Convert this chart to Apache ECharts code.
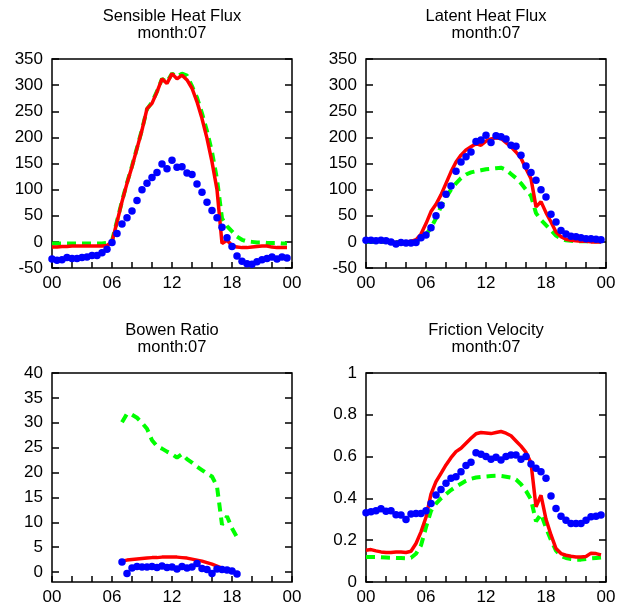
<!DOCTYPE html>
<html>
<head>
<meta charset="utf-8">
<script src="https://cdn.jsdelivr.net/npm/echarts@6/dist/echarts.min.js"></script>
<style>html,body{margin:0;padding:0;background:#fff}#c{width:626px;height:610px}</style>
</head>
<body>
<div id="c"></div>
<script>
const hours = [0,0.5,1,1.5,2,2.5,3,3.5,4,4.5,5,5.5,6,6.5,7,7.5,8,8.5,9,9.5,10,10.5,11,11.5,
  12,12.5,13,13.5,14,14.5,15,15.5,16,16.5,17,17.5,18,18.5,19,19.5,20,20.5,21,21.5,22,22.5,23,23.5];
const xTickLabels = ['00','06','12','18','00'];

const titles = ['Sensible Heat Flux\nmonth:07','Latent Heat Flux\nmonth:07','Bowen Ratio\nmonth:07','Friction Velocity\nmonth:07'];

// Sensible heat flux
const shRed = [-10,-10,-9,-9,-8,-8,-8,-8,-8,-8,-8,-7, 0,38,77,112,144,179,214,255,265,287,312,303,
  322,312,319,310,294,268,236,198,153,100,-3,3, -7,-10,-11,-11,-10,-9,-8,-8,-10,-11,-11,-11];
const shGreen = [-3,-3,-3,-3,-3,-3,-3,-3,-3,-3,-3,-2, 2,40,78,113,145,180,215,254,267,288,312,306,
  322,316,322,318,298,276,246,212,172,120,45,30, 20,10,4,1,0,-1,-1,-2,-2,-2,-3,-3];
const shBlue = [-33,-35,-34,-30,-32,-32,-30,-29,-26,-26,-21,-14, -1,16,34,46,59,79,100,112,123,133,149,140,
  156,143,144,132,129,111,95,76,60,46,28,8, -9,-27,-37,-42,-43,-38,-34,-32,-29,-33,-29,-31];

// Latent heat flux
const lhRed = [1,1,1,1,0,0,-1,0,0,1,4,15, 35,58,72,90,112,134,153,166,176,182,188,185,
  193,197,199,198,190,182,172,160,140,121,67,77, 56,38,19,10,5,3,2,1,1,0,0,0];
const lhGreen = [0,0,0,0,0,0,0,0,0,0,2,6, 14,27,45,68,85,100,112,122,129,133,135,137,
  139,140,141,142,138,130,122,112,100,88,55,42, 32,22,12,6,3,2,1,1,1,1,1,1];
const lhBlue = [3,3,2,3,2,0,-4,-1,-2,-2,-1,8, 13,27,50,70,91,107,135,153,163,172,192,195,
  204,190,203,201,197,185,183,166,145,133,118,100, 86,53,38,22,15,11,10,8,6,6,5,4];

// Bowen ratio (07:00 - 18:30)
const brHours = hours.slice(14, 38);
const brRed = [2.2,2.4,2.5,2.6,2.7,2.8,2.9,2.9,3.0,3.0,3.0,3.0,2.9,2.8,2.6,2.4,2.2,1.9,1.6,1.2,0.8,0.5,0.2,-0.2];
const brGreen = [30.1,31.8,31.6,31.0,30.0,28.8,26.5,25.3,24.8,24.2,23.7,23.0,23.7,22.7,22.0,21.2,20.5,19.8,19.2,17.2,9.5,11.2,8.8,7.0];
const brBlue = [2.0,-0.3,0.8,1.1,1.0,1.0,1.1,0.9,1.2,0.9,1.0,0.6,1.1,0.8,1.0,1.7,0.7,0.5,-0.3,0.6,0.5,0.4,0.2,-0.4];
const brTicks = [0,5,10,15,20,25,30,35,40];

// Friction velocity
const fvRed = [0.152,0.155,0.149,0.144,0.141,0.141,0.144,0.143,0.141,0.147,0.184,0.24,
  0.31,0.42,0.48,0.52,0.56,0.595,0.624,0.64,0.664,0.688,0.709,0.715,
  0.713,0.71,0.715,0.72,0.712,0.70,0.675,0.65,0.62,0.57,0.36,0.415,
  0.30,0.225,0.16,0.136,0.128,0.123,0.12,0.12,0.122,0.138,0.136,0.13];
const fvGreen = [0.12,0.12,0.12,0.118,0.117,0.116,0.115,0.115,0.114,0.116,0.135,0.175,
  0.262,0.34,0.375,0.40,0.42,0.44,0.456,0.47,0.484,0.494,0.50,0.503,
  0.505,0.507,0.508,0.507,0.504,0.50,0.49,0.468,0.436,0.395,0.29,0.325,
  0.26,0.20,0.15,0.125,0.115,0.11,0.107,0.107,0.11,0.113,0.115,0.117];
const fvBlue = [0.331,0.336,0.341,0.350,0.338,0.341,0.322,0.320,0.299,0.325,0.328,0.328,
  0.341,0.376,0.416,0.443,0.472,0.496,0.504,0.528,0.557,0.573,0.619,0.611,
  0.600,0.587,0.597,0.584,0.600,0.608,0.608,0.587,0.600,0.565,0.544,0.528,
  0.496,0.411,0.352,0.315,0.296,0.28,0.28,0.28,0.296,0.312,0.315,0.32];

const FONT = '"Liberation Sans", Arial, sans-serif';
const pair = (xs, ys) => ys.map((v, i) => [xs[i], v]);

const grids = [
  {left: 52, top: 59, width: 240, height: 209},
  {left: 366, top: 59, width: 240, height: 209},
  {left: 52, top: 373, width: 240, height: 209},
  {left: 366, top: 373, width: 240, height: 209}
];
const yRanges = [
  {min: -50, max: 350, interval: 50},
  {min: -50, max: 350, interval: 50},
  {min: -2, max: 40, custom: brTicks},
  {min: 0, max: 1, interval: 0.2}
];
const panels = [
  [shRed, shGreen, shBlue, hours],
  [lhRed, lhGreen, lhBlue, hours],
  [brRed, brGreen, brBlue, brHours],
  [fvRed, fvGreen, fvBlue, hours]
];

const option = {
  animation: false,
  backgroundColor: '#fff',
  title: grids.map((g, i) => ({
    text: titles[i], left: g.left + g.width / 2, top: g.top - 51, textAlign: 'center', padding: 0,
    textStyle: {fontSize: 16.5, fontWeight: 'normal', color: '#000', lineHeight: 17, fontFamily: FONT}
  })),
  grid: grids.map(g => Object.assign({show: true, borderColor: '#000', borderWidth: 1.5, backgroundColor: 'transparent'}, g)),
  xAxis: grids.map((g, i) => ({
    type: 'value', gridIndex: i, min: 0, max: 24, interval: 2,
    axisLine: {show: false, onZero: false},
    axisTick: {inside: true, length: 6, lineStyle: {color: '#000', width: 1.5}},
    splitLine: {show: false},
    axisLabel: {
      fontSize: 17, color: '#000', fontFamily: FONT, margin: 7,
      formatter: v => (v % 6 === 0 ? xTickLabels[v / 6] : '')
    }
  })),
  yAxis: [],
  series: []
};

grids.forEach((g, i) => {
  const r = yRanges[i];
  const base = {type: 'value', gridIndex: i, min: r.min, max: r.max, axisLine: {show: false, onZero: false}, splitLine: {show: false}};
  if (r.interval) base.interval = r.interval;
  const tick = {inside: true, length: 7, lineStyle: {color: '#000', width: 1.5}};
  if (r.custom) tick.customValues = r.custom;
  const lab = {fontSize: 17, color: '#000', fontFamily: FONT, margin: 9};
  if (r.custom) lab.customValues = r.custom;
  option.yAxis.push(Object.assign({}, base, {position: 'left', axisTick: tick, axisLabel: lab}));
  option.yAxis.push(Object.assign({}, base, {position: 'right', axisTick: tick, axisLabel: {show: false}}));
});

panels.forEach((p, i) => {
  const [red, green, blue, xs] = p;
  option.series.push({
    type: 'line', xAxisIndex: i, yAxisIndex: 2 * i, data: pair(xs, green), showSymbol: false, z: 2,
    lineStyle: {color: '#00ff00', width: 4, type: [9, 6]}
  });
  option.series.push({
    type: 'line', xAxisIndex: i, yAxisIndex: 2 * i, data: pair(xs, red), showSymbol: false, z: 3,
    lineStyle: {color: '#ff0000', width: 3.5}
  });
  option.series.push({
    type: 'scatter', xAxisIndex: i, yAxisIndex: 2 * i, data: pair(xs, blue), z: 4,
    symbol: 'circle', symbolSize: 7.5, itemStyle: {color: '#0000ff', opacity: 1}
  });
});

const chart = echarts.init(document.getElementById('c'), null, {renderer: 'canvas'});
chart.setOption(option);
</script>
</body>
</html>
